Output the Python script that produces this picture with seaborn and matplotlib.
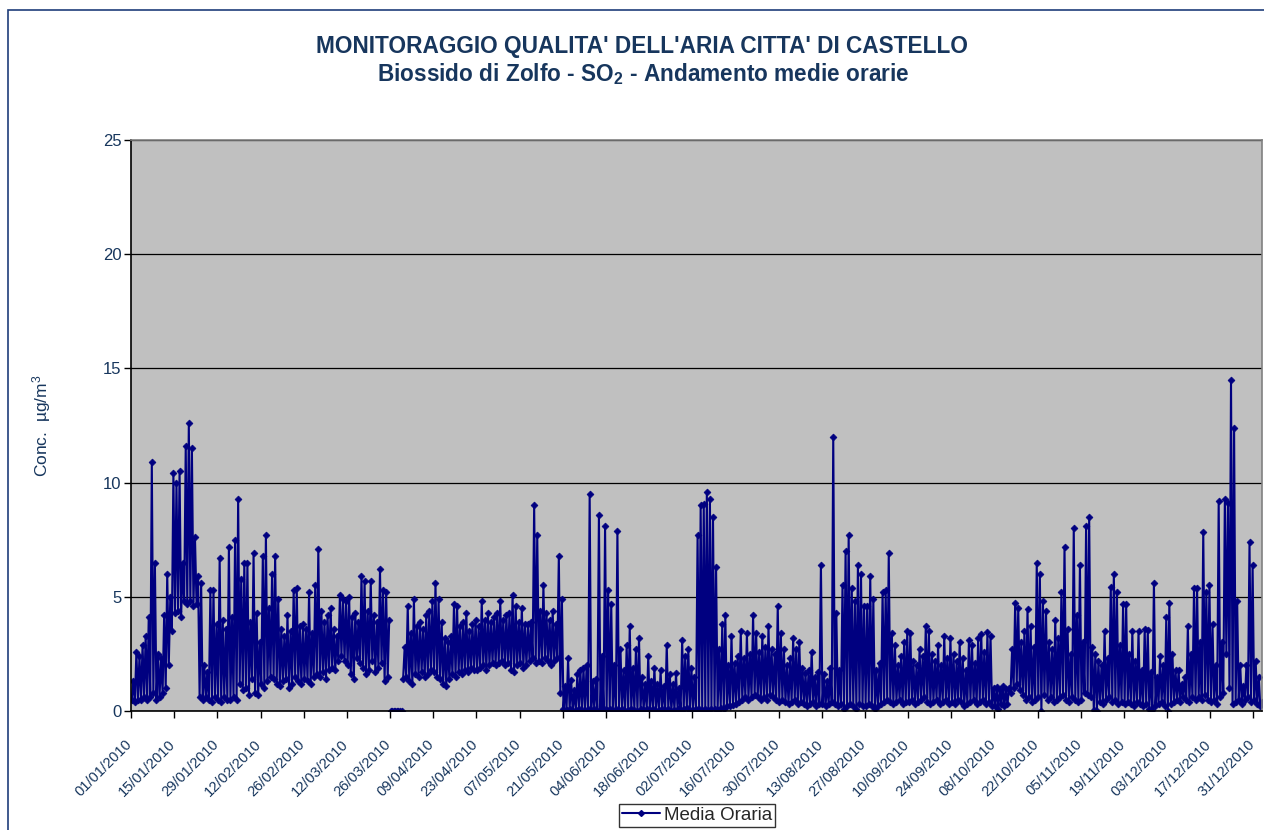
import matplotlib
matplotlib.use('Agg')
import matplotlib.pyplot as plt
import seaborn as sns
import numpy as np
import pandas as pd
from matplotlib.lines import Line2D
from matplotlib.patches import Rectangle
from matplotlib.transforms import ScaledTranslation

# --- Dati: massimo e minimo giornaliero (ug/m3), 01/01/2010 -> 02/01/2011 ---
max_giornalieri = [
    1.3, 2.6, 2.4, 2.9, 3.3, 4.1, 10.9, 6.5, 2.5, 2.3, 4.2, 6.0, 5.0, 10.4,
    10.0, 10.5, 6.5, 11.6, 12.6, 11.5, 7.6, 5.9, 5.6, 2.0, 1.7, 5.3, 5.3, 3.8,
    6.7, 4.0, 3.6, 7.2, 4.1, 7.5, 9.3, 5.8, 6.5, 6.5, 3.9, 6.9, 4.3, 3.0,
    6.8, 7.7, 4.5, 6.0, 6.8, 4.9, 3.6, 3.3, 4.2, 3.5, 5.3, 5.4, 3.7, 3.8,
    3.6, 5.2, 3.4, 5.5, 7.1, 4.4, 3.9, 4.2, 4.5, 3.6, 3.3, 5.1, 4.9, 4.8,
    5.0, 4.1, 4.3, 3.9, 5.9, 5.7, 4.4, 5.7, 4.2, 3.9, 6.2, 5.3, 5.2, 4.0,
    0.0, 0.0, 0.0, 0.0, 2.8, 4.6, 3.4, 4.9, 3.7, 3.9, 3.6, 4.2, 4.4, 4.8,
    5.6, 4.9, 3.9, 3.2, 3.0, 3.3, 4.7, 4.6, 3.7, 3.9, 4.3, 3.5, 3.8, 4.0,
    3.7, 4.8, 4.0, 4.3, 3.9, 4.1, 4.3, 4.8, 4.0, 4.2, 4.3, 5.1, 4.6, 3.9,
    4.5, 3.8, 3.8, 3.9, 9.0, 7.7, 4.4, 5.5, 4.3, 4.0, 4.4, 3.8, 6.8, 4.9,
    1.1, 2.3, 1.35, 0.9, 1.6, 1.8, 1.9, 2.0, 9.5, 1.3, 1.4, 8.6, 2.4, 8.1,
    5.3, 4.7, 2.0, 7.9, 2.7, 1.8, 2.9, 3.7, 1.9, 2.7, 3.2, 1.5, 1.2, 2.4,
    1.3, 1.9, 1.2, 1.8, 1.1, 2.9, 1.6, 1.2, 1.65, 1.0, 3.1, 2.4, 2.7, 1.9,
    1.5, 7.7, 9.0, 9.05, 9.6, 9.3, 8.5, 6.3, 2.7, 3.8, 4.2, 2.0, 3.3, 2.1,
    2.4, 3.5, 2.3, 3.4, 2.5, 4.2, 3.4, 2.6, 3.3, 2.8, 3.7, 2.7, 2.5, 4.6,
    3.4, 2.7, 2.0, 2.3, 3.2, 2.7, 3.0, 1.9, 1.65, 1.8, 2.6, 1.5, 1.7, 6.4,
    1.6, 1.3, 1.9, 12.0, 4.3, 1.8, 5.5, 7.0, 7.7, 5.4, 4.8, 6.4, 6.0, 4.6,
    4.6, 5.9, 4.9, 1.8, 2.1, 5.2, 5.3, 6.9, 3.4, 2.9, 2.0, 2.4, 3.0, 3.5,
    3.4, 2.2, 2.0, 2.7, 2.4, 3.7, 3.5, 2.5, 2.2, 2.9, 2.0, 3.3, 2.3, 3.2,
    2.5, 2.2, 3.0, 2.3, 1.8, 3.1, 2.9, 2.1, 3.2, 3.35, 2.6, 3.45, 3.3, 1.0,
    1.05, 0.9, 1.1, 0.95, 1.0, 2.7, 4.75, 4.5, 3.0, 3.5, 4.45, 3.7, 2.8, 6.5,
    6.0, 4.8, 4.4, 3.0, 2.7, 4.0, 3.2, 5.2, 7.2, 3.6, 2.5, 8.0, 4.2, 6.4,
    3.0, 8.1, 8.5, 2.8, 2.5, 2.2, 2.0, 3.5, 2.3, 5.45, 6.0, 5.2, 2.9, 4.7,
    4.7, 2.5, 3.5, 2.2, 3.5, 1.8, 3.6, 3.55, 1.7, 5.6, 1.5, 2.4, 2.0, 4.1,
    4.75, 2.5, 1.8, 1.8, 1.2, 1.5, 3.7, 2.5, 5.4, 5.4, 3.0, 7.85, 5.2, 5.5,
    3.8, 2.0, 9.2, 3.0, 9.3, 9.1, 14.5, 12.4, 4.8, 2.0, 1.1, 2.0, 7.4, 6.4, 2.2, 1.5, 0.4,
]

min_giornalieri = [
    0.5, 0.4, 0.5, 0.5, 0.6, 0.5, 0.6, 0.8, 0.5, 0.6, 0.8, 1.0, 2.0, 3.5,
    4.3, 4.4, 4.1, 4.8, 4.7, 4.8, 4.6, 4.7, 0.6, 0.5, 0.6, 0.5, 0.4, 0.6,
    0.5, 0.4, 0.6, 0.5, 0.5, 0.6, 0.5, 1.2, 0.9, 1.0, 0.7, 1.4, 0.8, 0.7,
    1.2, 1.0, 1.3, 1.5, 1.4, 1.2, 1.1, 1.3, 1.4, 1.0, 1.2, 1.5, 1.3, 1.2,
    1.4, 1.3, 1.2, 1.5, 1.6, 1.5, 1.7, 1.4, 1.8, 1.9, 1.8, 2.2, 2.4, 2.2,
    2.0, 1.6, 1.4, 2.3, 2.1, 1.9, 1.6, 1.8, 2.2, 1.7, 1.9, 2.1, 1.3, 1.5,
    0.0, 0.0, 0.0, 0.0, 1.4, 1.5, 1.3, 1.2, 1.6, 1.5, 1.7, 1.5, 1.6, 1.8,
    1.7, 1.5, 1.4, 1.2, 1.1, 1.4, 1.6, 1.5, 1.7, 1.6, 1.8, 1.7, 1.9, 1.8,
    1.8, 1.9, 2.0, 1.8, 2.0, 2.1, 2.0, 2.1, 2.2, 2.0, 2.1, 1.8, 1.7, 2.0,
    2.1, 1.9, 2.0, 2.2, 2.3, 2.1, 2.2, 2.1, 2.3, 2.2, 2.0, 2.2, 2.3, 0.8,
    0.1, 0.05, 0.1, 0.0, 0.05, 0.1, 0.05, 0.0, 0.1, 0.05, 0.1, 0.0, 0.05, 0.1,
    0.05, 0.1, 0.0, 0.1, 0.05, 0.1, 0.0, 0.05, 0.1, 0.05, 0.0, 0.1, 0.05, 0.1,
    0.05, 0.1, 0.0, 0.05, 0.1, 0.05, 0.1, 0.0, 0.05, 0.1, 0.05, 0.1, 0.15, 0.05,
    0.05, 0.1, 0.1, 0.05, 0.1, 0.05, 0.1, 0.1, 0.05, 0.15, 0.1, 0.2, 0.2, 0.25,
    0.3, 0.4, 0.5, 0.6, 0.5, 0.6, 0.7, 0.6, 0.5, 0.6, 0.5, 0.7, 0.6, 0.5,
    0.4, 0.5, 0.4, 0.3, 0.4, 0.5, 0.3, 0.4, 0.3, 0.2, 0.3, 0.4, 0.2, 0.3,
    0.3, 0.2, 0.3, 0.4, 0.3, 0.2, 0.3, 0.1, 0.2, 0.3, 0.2, 0.1, 0.3, 0.2,
    0.2, 0.3, 0.2, 0.1, 0.2, 0.3, 0.4, 0.5, 0.4, 0.3, 0.4, 0.5, 0.3, 0.4,
    0.4, 0.5, 0.3, 0.4, 0.5, 0.6, 0.4, 0.3, 0.4, 0.5, 0.3, 0.4, 0.5, 0.3,
    0.4, 0.3, 0.5, 0.4, 0.2, 0.3, 0.4, 0.5, 0.3, 0.4, 0.5, 0.3, 0.4, 0.2,
    0.2, 0.1, 0.3, 0.2, 0.3, 0.8, 1.0, 1.2, 0.9, 0.7, 0.5, 0.6, 0.4, 0.5,
    0.6, 0.0, 0.7, 0.5, 0.6, 0.4, 0.5, 0.6, 0.7, 0.5, 0.4, 0.6, 0.5, 0.4,
    0.5, 0.8, 0.7, 0.6, 0.05, 0.0, 0.4, 0.3, 0.5, 0.6, 0.4, 0.5, 0.3, 0.4,
    0.3, 0.4, 0.3, 0.2, 0.4, 0.3, 0.2, 0.3, 0.1, 0.05, 0.2, 0.3, 0.4, 0.2,
    0.0, 0.3, 0.4, 0.5, 0.4, 0.6, 0.5, 0.4, 0.6, 0.5, 0.6, 0.5, 0.7, 0.5,
    0.4, 0.5, 0.3, 0.6, 0.8, 2.5, 1.0, 0.3, 0.4, 0.5, 0.3, 0.5, 0.6, 0.4, 0.5, 0.3, 0.2,
]

# giorni con dato nullo (fine marzo), disegnati come tratto separato
giorni_zero = [84, 85, 86, 87]

etichette_date = [
    '01/01/2010', '15/01/2010', '29/01/2010', '12/02/2010', '26/02/2010',
    '12/03/2010', '26/03/2010', '09/04/2010', '23/04/2010', '07/05/2010',
    '21/05/2010', '04/06/2010', '18/06/2010', '02/07/2010', '16/07/2010',
    '30/07/2010', '13/08/2010', '27/08/2010', '10/09/2010', '24/09/2010',
    '08/10/2010', '22/10/2010', '05/11/2010', '19/11/2010', '03/12/2010',
    '17/12/2010', '31/12/2010',
]

# --- Tabella per seaborn: due punti al giorno (minimo, massimo) ---
righe = []
for g, (lo, hi) in enumerate(zip(min_giornalieri, max_giornalieri)):
    if g in giorni_zero:
        tratto = 1
    elif g < giorni_zero[0]:
        tratto = 0
    else:
        tratto = 2
    righe.append((g + 0.25, lo, tratto))
    righe.append((g + 0.75, hi, tratto))
df = pd.DataFrame(righe, columns=['giorno', 'conc', 'tratto'])

blu = '#000080'
testo = '#17365D'

sns.set_theme(style='white')
plt.rcParams['font.family'] = ['Liberation Sans', 'DejaVu Sans']
plt.rcParams['mathtext.fontset'] = 'custom'
plt.rcParams['mathtext.rm'] = 'Liberation Sans'
plt.rcParams['mathtext.it'] = 'Liberation Sans:italic'
plt.rcParams['mathtext.bf'] = 'Liberation Sans:bold'

fig = plt.figure(figsize=(12.64, 8.30), dpi=100)
ax = fig.add_axes([131 / 1264, 1 - 711 / 830, (1262 - 131) / 1264, (711 - 140) / 830])
ax.set_facecolor('#C0C0C0')

sns.lineplot(data=df, x='giorno', y='conc', units='tratto', estimator=None, sort=False,
             color=blu, linewidth=1.5, marker='D', markersize=3.5, markeredgewidth=0.5,
             markeredgecolor=blu, ax=ax)

# --- Assi ---
ax.set_xlim(0, len(max_giornalieri) - 0.2)
ax.set_ylim(0, 25)
ax.set_yticks([0, 5, 10, 15, 20, 25])
ax.set_xticks([14 * i for i in range(len(etichette_date))])
ax.set_xticklabels(etichette_date, rotation=45, ha='right', va='top', rotation_mode='anchor',
                   fontsize=10.5, color=testo)
ax.tick_params(axis='x', direction='out', length=5, width=1, color='black', pad=14, bottom=True)
ax.tick_params(axis='y', direction='out', length=5, width=1, color='black', pad=2, left=True,
               labelsize=12, labelcolor=testo)
for lab in ax.get_xticklabels():
    lab.set_transform(lab.get_transform() + ScaledTranslation(-6 / 100, 0, fig.dpi_scale_trans))

ax.yaxis.grid(True, color='black', linewidth=0.9)
ax.xaxis.grid(False)
ax.set_axisbelow(True)
ax.set_xlabel('')
ax.set_ylabel('')
ax.spines['left'].set_color('black')
ax.spines['bottom'].set_color('black')
ax.spines['top'].set_color('#808080')
ax.spines['right'].set_color('#808080')
for s in ax.spines.values():
    s.set_linewidth(1.2)

# --- Titoli e etichetta asse y ---
fig.text(642 / 1264, 1 - 46 / 830, "MONITORAGGIO QUALITA' DELL'ARIA CITTA' DI CASTELLO",
         ha='center', va='center', fontsize=16.3, fontweight='bold', color=testo)
fig.text(643 / 1264, 1 - 74 / 830, r'Biossido di Zolfo - SO$_\mathbf{2}$ - Andamento medie orarie',
         ha='center', va='center', fontsize=16.3, fontweight='bold', color=testo)
fig.text(42 / 1264, 1 - 426 / 830, r'Conc.  µg/m$^3$', rotation=90, ha='center', va='center',
         fontsize=12.5, color=testo)

# --- Legenda in basso ---
maniglia = Line2D([], [], color=blu, linewidth=1.5, marker='D', markersize=3)
leg = fig.legend([maniglia], ['Media Oraria'], loc='upper center',
                 bbox_to_anchor=(697 / 1264, 1 - 804 / 830), fontsize=13.5, frameon=True,
                 fancybox=False, borderpad=0.15, borderaxespad=0, handlelength=2.0,
                 handletextpad=0.2)
leg.get_frame().set_edgecolor('black')
leg.get_frame().set_linewidth(1)

# cornice blu dell'area grafico
fig.add_artist(Rectangle((8 / 1264, -0.1), 1.2, 1 - 10 / 830 + 0.1, transform=fig.transFigure,
                         fill=False, edgecolor='#1F3D7A', linewidth=1.2))

fig.savefig('out.png', dpi=100)
